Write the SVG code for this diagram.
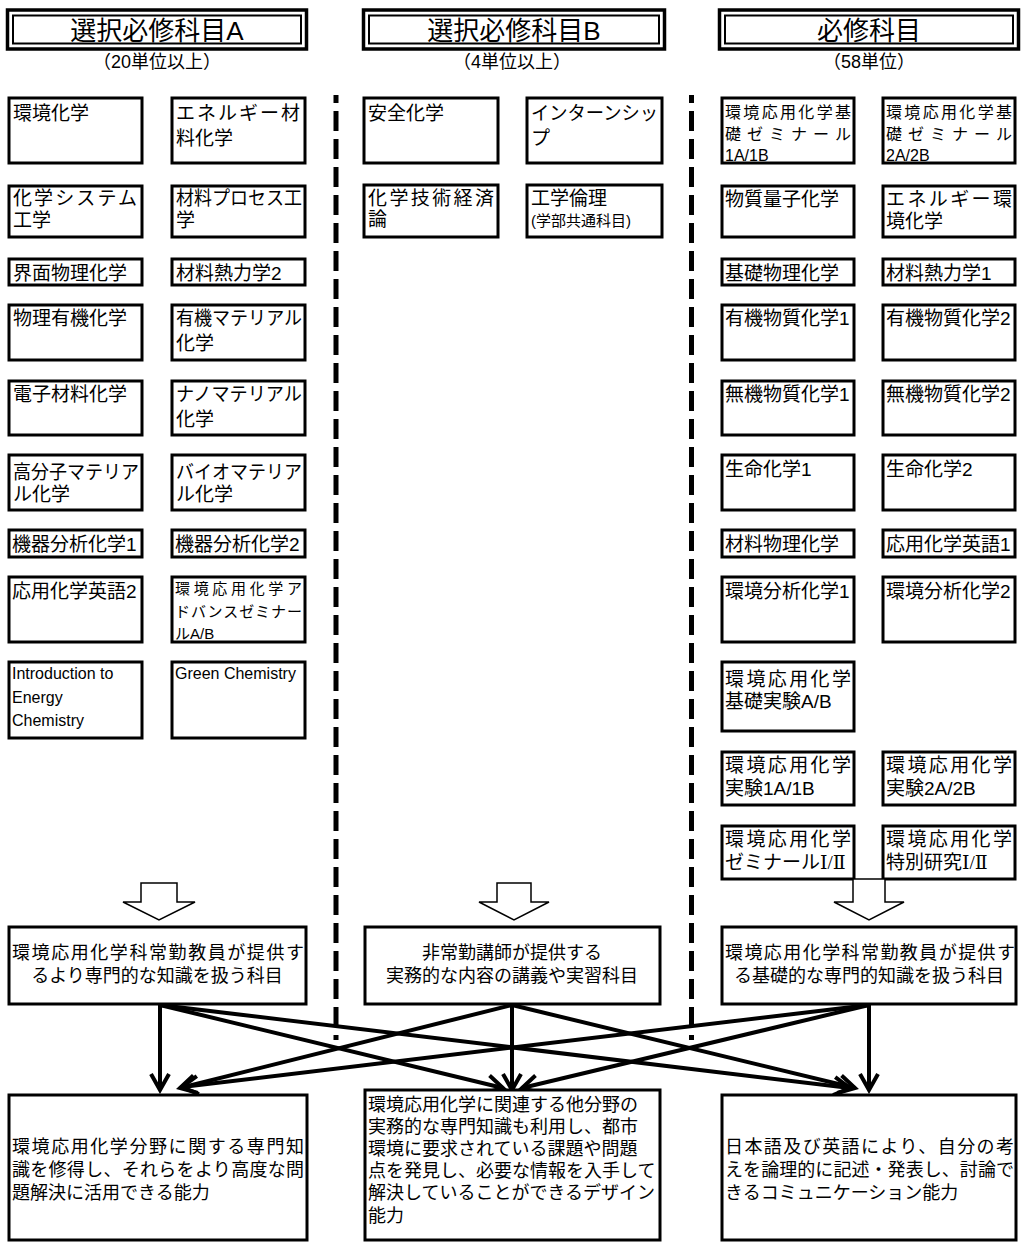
<svg xmlns="http://www.w3.org/2000/svg" width="1025" height="1247" viewBox="0 0 1025 1247">
<defs>
<style>
text{font-family:'Liberation Sans','Noto Sans CJK JP',sans-serif;fill:#000}
.box{fill:#fff;stroke:#000;stroke-width:3}
.t{font-size:19px}
.s{font-size:16px}
.xs{font-size:15px}
.en{font-size:16px}
.hd{font-size:26px;text-anchor:middle}
.sub{font-size:18px;text-anchor:middle}
.hout{fill:#fff;stroke:#000;stroke-width:3.5}
.hin{fill:none;stroke:#000;stroke-width:2}
.dash{stroke:#000;stroke-width:5;stroke-dasharray:20 8;fill:none}
.blk{fill:#fff;stroke:#000;stroke-width:1.5}
.mid{font-size:18px;text-anchor:middle}
.bt{font-size:18px}
.con{stroke:#000;stroke-width:4;fill:none;marker-end:url(#chev)}
.rn{font-family:'Liberation Serif','DejaVu Serif',serif}
</style>
<marker id="chev" markerUnits="userSpaceOnUse" markerWidth="24" markerHeight="24" viewBox="0 0 24 24" refX="20" refY="12" orient="auto">
<path d="M4,3 L20,12 L4,21" fill="none" stroke="#000" stroke-width="4" stroke-linejoin="miter"/>
</marker>
</defs>
<rect width="1025" height="1247" fill="#fff"/>

<!-- headers -->
<g id="headerA">
<rect class="hout" x="7.5" y="10" width="299" height="39"/>
<rect class="hin" x="13" y="15.5" width="288" height="28"/>
<text class="hd" x="157" y="40">選択必修科目A</text>
<text class="sub" x="157" y="68">（20単位以上）</text>
</g>
<g id="headerB">
<rect class="hout" x="363.5" y="10" width="301" height="39"/>
<rect class="hin" x="369" y="15.5" width="290" height="28"/>
<text class="hd" x="514" y="40">選択必修科目B</text>
<text class="sub" x="512" y="68">（4単位以上）</text>
</g>
<g id="headerC">
<rect class="hout" x="719.5" y="10" width="299" height="39"/>
<rect class="hin" x="725" y="15.5" width="288" height="28"/>
<text class="hd" x="869" y="40">必修科目</text>
<text class="sub" x="869" y="68">（58単位）</text>
</g>

<!-- dashed separators -->
<g id="separators">
<line class="dash" x1="336" y1="95" x2="336" y2="1040" stroke-dashoffset="12"/>
<line class="dash" x1="691.5" y1="95" x2="691.5" y2="1040" stroke-dashoffset="12"/>
</g>

<!-- Column A -->
<g id="a1"><rect class="box" x="9" y="98" width="133" height="65"/><text class="t" x="13" y="120">環境化学</text></g>
<g id="a2"><rect class="box" x="172" y="98" width="133" height="65"/><text class="t" x="176" y="120" textLength="124" lengthAdjust="spacing">エネルギー材</text><text class="t" x="176" y="145">料化学</text></g>
<g id="a3"><rect class="box" x="9" y="186" width="133" height="51"/><text class="t" x="13" y="205" textLength="124" lengthAdjust="spacing">化学システム</text><text class="t" x="13" y="227">工学</text></g>
<g id="a4"><rect class="box" x="172" y="186" width="133" height="51"/><text class="t" x="176" y="205" textLength="126" lengthAdjust="spacingAndGlyphs">材料プロセス工</text><text class="t" x="176" y="227">学</text></g>
<g id="a5"><rect class="box" x="9" y="259" width="133" height="26"/><text class="t" x="13" y="280">界面物理化学</text></g>
<g id="a6"><rect class="box" x="172" y="259" width="133" height="26"/><text class="t" x="176" y="280">材料熱力学2</text></g>
<g id="a7"><rect class="box" x="9" y="305" width="133" height="55"/><text class="t" x="13" y="325">物理有機化学</text></g>
<g id="a8"><rect class="box" x="172" y="305" width="133" height="55"/><text class="t" x="176" y="325" textLength="126" lengthAdjust="spacingAndGlyphs">有機マテリアル</text><text class="t" x="176" y="350">化学</text></g>
<g id="a9"><rect class="box" x="9" y="381" width="133" height="54"/><text class="t" x="13" y="401">電子材料化学</text></g>
<g id="a10"><rect class="box" x="172" y="381" width="133" height="54"/><text class="t" x="176" y="401" textLength="126" lengthAdjust="spacingAndGlyphs">ナノマテリアル</text><text class="t" x="176" y="426">化学</text></g>
<g id="a11"><rect class="box" x="9" y="455" width="133" height="55"/><text class="t" x="13" y="479" textLength="126" lengthAdjust="spacingAndGlyphs">高分子マテリア</text><text class="t" x="13" y="501">ル化学</text></g>
<g id="a12"><rect class="box" x="172" y="455" width="133" height="55"/><text class="t" x="176" y="479" textLength="126" lengthAdjust="spacingAndGlyphs">バイオマテリア</text><text class="t" x="176" y="501">ル化学</text></g>
<g id="a13"><rect class="box" x="9" y="530" width="133" height="27"/><text class="t" x="12" y="551">機器分析化学1</text></g>
<g id="a14"><rect class="box" x="172" y="530" width="133" height="27"/><text class="t" x="175" y="551">機器分析化学2</text></g>
<g id="a15"><rect class="box" x="9" y="577" width="133" height="65"/><text class="t" x="12" y="598">応用化学英語2</text></g>
<g id="a16"><rect class="box" x="172" y="577" width="133" height="65"/><text class="xs" x="175" y="594" textLength="127" lengthAdjust="spacing">環境応用化学ア</text><text class="xs" x="175" y="617" textLength="127" lengthAdjust="spacing">ドバンスゼミナー</text><text class="xs" x="175" y="639">ルA/B</text></g>
<g id="a17"><rect class="box" x="9" y="662" width="133" height="76"/><text class="en" x="12" y="679">Introduction to</text><text class="en" x="12" y="703">Energy</text><text class="en" x="12" y="726">Chemistry</text></g>
<g id="a18"><rect class="box" x="172" y="662" width="133" height="76"/><text class="en" x="175" y="679">Green Chemistry</text></g>

<!-- Column B -->
<g id="b1"><rect class="box" x="364" y="98" width="134" height="65"/><text class="t" x="368" y="120">安全化学</text></g>
<g id="b2"><rect class="box" x="527" y="98" width="135" height="65"/><text class="t" x="531" y="120" textLength="127" lengthAdjust="spacingAndGlyphs">インターンシッ</text><text class="t" x="531" y="145">プ</text></g>
<g id="b3"><rect class="box" x="364" y="185" width="134" height="52"/><text class="t" x="368" y="205" textLength="126" lengthAdjust="spacing">化学技術経済</text><text class="t" x="368" y="226">論</text></g>
<g id="b4"><rect class="box" x="527" y="185" width="135" height="52"/><text class="t" x="531" y="205">工学倫理</text><text class="xs" x="531" y="226">(学部共通科目)</text></g>

<!-- Column C -->
<g id="c1"><rect class="box" x="722" y="98" width="132" height="65"/><text class="s" x="725" y="118" textLength="126" lengthAdjust="spacing">環境応用化学基</text><text class="s" x="725" y="140" textLength="126" lengthAdjust="spacing">礎ゼミナール</text><text class="s" x="725" y="161">1A/1B</text></g>
<g id="c2"><rect class="box" x="883" y="98" width="132" height="65"/><text class="s" x="886" y="118" textLength="126" lengthAdjust="spacing">環境応用化学基</text><text class="s" x="886" y="140" textLength="126" lengthAdjust="spacing">礎ゼミナール</text><text class="s" x="886" y="161">2A/2B</text></g>
<g id="c3"><rect class="box" x="722" y="186" width="132" height="51"/><text class="t" x="725" y="206">物質量子化学</text></g>
<g id="c4"><rect class="box" x="883" y="186" width="132" height="51"/><text class="t" x="886" y="206" textLength="126" lengthAdjust="spacing">エネルギー環</text><text class="t" x="886" y="228">境化学</text></g>
<g id="c5"><rect class="box" x="722" y="259" width="132" height="26"/><text class="t" x="725" y="280">基礎物理化学</text></g>
<g id="c6"><rect class="box" x="883" y="259" width="132" height="26"/><text class="t" x="886" y="280">材料熱力学1</text></g>
<g id="c7"><rect class="box" x="722" y="305" width="132" height="55"/><text class="t" x="725" y="325">有機物質化学1</text></g>
<g id="c8"><rect class="box" x="883" y="305" width="132" height="55"/><text class="t" x="886" y="325">有機物質化学2</text></g>
<g id="c9"><rect class="box" x="722" y="381" width="132" height="54"/><text class="t" x="725" y="401">無機物質化学1</text></g>
<g id="c10"><rect class="box" x="883" y="381" width="132" height="54"/><text class="t" x="886" y="401">無機物質化学2</text></g>
<g id="c11"><rect class="box" x="722" y="455" width="132" height="55"/><text class="t" x="725" y="476">生命化学1</text></g>
<g id="c12"><rect class="box" x="883" y="455" width="132" height="55"/><text class="t" x="886" y="476">生命化学2</text></g>
<g id="c13"><rect class="box" x="722" y="530" width="132" height="27"/><text class="t" x="725" y="551">材料物理化学</text></g>
<g id="c14"><rect class="box" x="883" y="530" width="132" height="27"/><text class="t" x="886" y="551">応用化学英語1</text></g>
<g id="c15"><rect class="box" x="722" y="577" width="132" height="65"/><text class="t" x="725" y="598">環境分析化学1</text></g>
<g id="c16"><rect class="box" x="883" y="577" width="132" height="65"/><text class="t" x="886" y="598">環境分析化学2</text></g>
<g id="c17"><rect class="box" x="722" y="662" width="132" height="69"/><text class="t" x="725" y="686" textLength="126" lengthAdjust="spacing">環境応用化学</text><text class="t" x="725" y="708">基礎実験A/B</text></g>
<g id="c18"><rect class="box" x="722" y="752" width="132" height="53"/><text class="t" x="725" y="772" textLength="126" lengthAdjust="spacing">環境応用化学</text><text class="t" x="725" y="795">実験1A/1B</text></g>
<g id="c19"><rect class="box" x="883" y="752" width="132" height="53"/><text class="t" x="886" y="772" textLength="126" lengthAdjust="spacing">環境応用化学</text><text class="t" x="886" y="795">実験2A/2B</text></g>
<g id="c20"><rect class="box" x="722" y="826" width="132" height="53"/><text class="t" x="725" y="846" textLength="126" lengthAdjust="spacing">環境応用化学</text><text class="t" x="725" y="869">ゼミナール<tspan class="rn">Ⅰ/Ⅱ</tspan></text></g>
<g id="c21"><rect class="box" x="883" y="826" width="132" height="53"/><text class="t" x="886" y="846" textLength="126" lengthAdjust="spacing">環境応用化学</text><text class="t" x="886" y="869">特別研究<tspan class="rn">Ⅰ/Ⅱ</tspan></text></g>

<!-- block arrows -->
<g id="blockArrows">
<path class="blk" d="M141,883 H177 V902 H195 L159,920 L123,902 H141 Z"/>
<path class="blk" d="M497,883 H531 V902 H549 L514,920 L479,902 H497 Z"/>
<path class="blk" d="M853,879 H885 V902 H904 L869,920 L834,902 H853 Z"/>
</g>

<!-- provider boxes -->
<g id="pA"><rect class="box" x="9" y="927" width="297" height="77"/><text class="bt" x="12" y="959" textLength="292" lengthAdjust="spacing">環境応用化学科常勤教員が提供す</text><text class="mid" x="157" y="982">るより専門的な知識を扱う科目</text></g>
<g id="pB"><rect class="box" x="365" y="927" width="295" height="77"/><text class="mid" x="512" y="959">非常勤講師が提供する</text><text class="mid" x="512" y="982">実務的な内容の講義や実習科目</text></g>
<g id="pC"><rect class="box" x="722" y="927" width="294" height="77"/><text class="bt" x="725" y="959" textLength="290" lengthAdjust="spacing">環境応用化学科常勤教員が提供す</text><text class="mid" x="869" y="982">る基礎的な専門的知識を扱う科目</text></g>

<!-- connectors -->
<g id="connectors">
<line class="con" x1="160" y1="1005" x2="160" y2="1090"/>
<line class="con" x1="160" y1="1005" x2="503" y2="1088"/>
<line class="con" x1="160" y1="1005" x2="850" y2="1088"/>
<line class="con" x1="512" y1="1005" x2="180" y2="1088"/>
<line class="con" x1="512" y1="1005" x2="512" y2="1090"/>
<line class="con" x1="512" y1="1005" x2="855" y2="1088"/>
<line class="con" x1="869" y1="1005" x2="182" y2="1087"/>
<line class="con" x1="869" y1="1005" x2="522" y2="1088"/>
<line class="con" x1="869" y1="1005" x2="869" y2="1090"/>
</g>

<!-- outcome boxes -->
<g id="oA"><rect class="box" x="9" y="1095" width="298" height="145"/><text class="bt" x="12" y="1153" textLength="292" lengthAdjust="spacing">環境応用化学分野に関する専門知</text><text class="bt" x="12" y="1176" textLength="292" lengthAdjust="spacing">識を修得し、それらをより高度な問</text><text class="bt" x="12" y="1199">題解決に活用できる能力</text></g>
<g id="oB"><rect class="box" x="365" y="1090" width="295" height="150"/><text class="bt" x="368" y="1111">環境応用化学に関連する他分野の</text><text class="bt" x="368" y="1133">実務的な専門知識も利用し、都市</text><text class="bt" x="368" y="1155">環境に要求されている課題や問題</text><text class="bt" x="368" y="1177">点を発見し、必要な情報を入手して</text><text class="bt" x="368" y="1199">解決していることができるデザイン</text><text class="bt" x="368" y="1222">能力</text></g>
<g id="oC"><rect class="box" x="722" y="1095" width="294" height="145"/><text class="bt" x="725" y="1153" textLength="289" lengthAdjust="spacing">日本語及び英語により、自分の考</text><text class="bt" x="725" y="1176" textLength="289" lengthAdjust="spacing">えを論理的に記述・発表し、討論で</text><text class="bt" x="725" y="1199">きるコミュニケーション能力</text></g>
</svg>
